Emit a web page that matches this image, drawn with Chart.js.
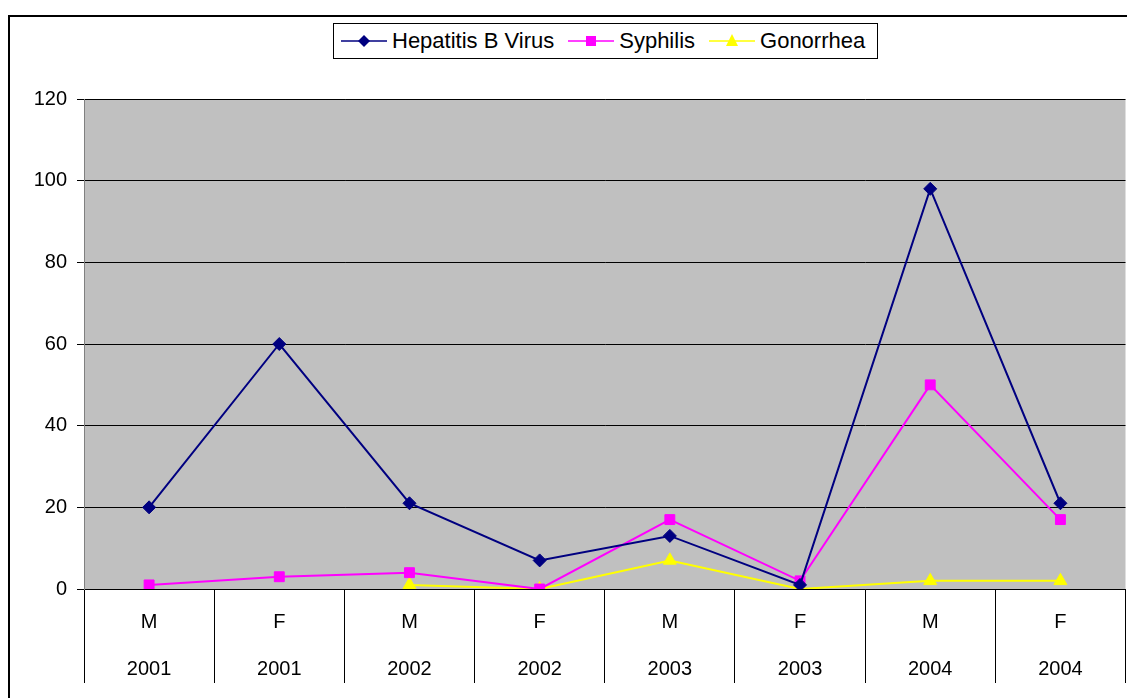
<!DOCTYPE html>
<html>
<head>
<script src="https://cdn.jsdelivr.net/npm/chart.js@4.4.1/dist/chart.umd.min.js"></script>
<style>
  html, body { margin: 0; padding: 0; background: #fff; overflow: hidden; }
  #wrap { position: relative; width: 1127px; height: 698px; overflow: hidden; }
  #frame { position: absolute; left: 8px; top: 15px; width: 1200px; height: 800px; border: 2px solid #000; box-sizing: border-box; }
  #myChart { position: absolute; left: 0; top: 0; }
  #legend {
    position: absolute; left: 333px; top: 23px; width: 545px; height: 36px;
    border: 1px solid #000; background: #fff; box-sizing: border-box;
    display: flex; align-items: center; justify-content: flex-start; padding-left: 7px; gap: 14px;
    font-family: "Liberation Sans", Arial, sans-serif; font-size: 22px; color: #000;
  }
  #legend .item { display: flex; align-items: center; gap: 5px; }
</style>
</head>
<body>
<div id="wrap">
  <div id="frame"></div>
  <canvas id="myChart" width="1134" height="698"></canvas>
  <div id="legend"></div>
</div>

<script>
    const sexes = ["M", "F", "M", "F", "M", "F", "M", "F"];
    const years = ["2001", "2001", "2002", "2002", "2003", "2003", "2004", "2004"];

    const seriesNames = ["Hepatitis B Virus", "Syphilis", "Gonorrhea"];
    const hepatitisB = [20, 60, 21, 7, 13, 1, 98, 21];
    const syphilis = [1, 3, 4, 0, 17, 2, 50, 17];
    const gonorrhea = [null, null, 1, 0, 7, 0, 2, 2];

    const yTicks = [0, 20, 40, 60, 80, 100, 120];

    const colors = ["#000080", "#ff00ff", "#ffff00"];
    const markers = ["rectRot", "rect", "triangle"];
    const markerSize = [6.5, 7, 7.5];

    const FONT = "'Liberation Sans', Arial, sans-serif";

    // grey plot area like the old excel charts
    const plotBg = {
        id: "plotBg",
        beforeDraw(chart) {
            const a = chart.chartArea;
            const ctx = chart.ctx;
            ctx.save();
            ctx.fillStyle = "#c0c0c0";
            ctx.fillRect(a.left, a.top, a.right - a.left, a.bottom - a.top);
            ctx.restore();
        }
    };

    const allData = [hepatitisB, syphilis, gonorrhea];
    const datasets = seriesNames.map((name, i) => ({
        label: name,
        data: allData[i],
        borderColor: colors[i],
        backgroundColor: colors[i],
        borderWidth: 2,
        pointStyle: markers[i],
        pointRadius: markerSize[i],
        pointHoverRadius: markerSize[i],
        pointBorderWidth: 1,
        tension: 0,
        spanGaps: false
    }));

    const chart = new Chart(document.getElementById("myChart"), {
        type: "line",
        data: {
            labels: sexes.map((s, i) => [s, years[i]]),
            datasets: datasets
        },
        plugins: [plotBg],
        options: {
            responsive: false,
            animation: false,
            devicePixelRatio: 1,
            layout: { padding: { top: 99, right: 0, left: 0, bottom: 0 } },
            plugins: {
                legend: { display: false },
                tooltip: { enabled: false }
            },
            scales: {
                x: {
                    offset: true,
                    grid: { offset: true, drawOnChartArea: false, color: "#000", tickLength: 94 },
                    border: { color: "#000", width: 1 },
                    ticks: {
                        color: "#000",
                        font: { family: FONT, size: 20, lineHeight: 2.35 },
                        padding: -84,
                        maxRotation: 0,
                        autoSkip: false
                    },
                    afterFit(s) { s.height = 109; }
                },
                y: {
                    min: 0,
                    max: 120,
                    afterBuildTicks(s) { s.ticks = yTicks.map(v => ({ value: v })); },
                    grid: { color: "#000", tickLength: 7 },
                    border: { color: "#808080" },
                    ticks: { color: "#000", font: { family: FONT, size: 20 }, padding: 10 },
                    afterFit(s) { s.width = 84; }
                }
            }
        }
    });

    // legend: line + marker like excel
    function markerSvg(i) {
        const c = colors[i];
        let shape = "";
        if (markers[i] === "rectRot") shape = `<polygon points="23,3 29,9 23,15 17,9" fill="${c}"/>`;
        else if (markers[i] === "rect") shape = `<rect x="18" y="4" width="10" height="10" fill="${c}"/>`;
        else shape = `<polygon points="23,2 29,14 17,14" fill="${c}"/>`;
        return `<svg width="46" height="18"><line x1="0" y1="9" x2="46" y2="9" stroke="${c}" stroke-width="1.5"/>${shape}</svg>`;
    }
    const legend = document.getElementById("legend");
    seriesNames.forEach((name, i) => {
        const d = document.createElement("div");
        d.className = "item";
        d.innerHTML = markerSvg(i) + "<span>" + name + "</span>";
        legend.appendChild(d);
    });
</script>
</body>
</html>
